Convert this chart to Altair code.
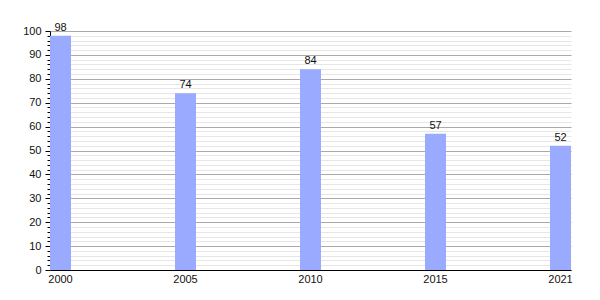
import altair as alt
import pandas as pd

years = ["2000", "2005", "2010", "2015", "2021"]
values = [98, 74, 84, 57, 52]
major_ticks = [0, 10, 20, 30, 40, 50, 60, 70, 80, 90, 100]
minor_ticks = [v for v in range(0, 101, 2) if v % 10 != 0]

df = pd.DataFrame({"year": years, "value": values})

FONT = "Liberation Sans"

x_enc = alt.X(
    "year:N",
    sort=years,
    title=None,
    scale=alt.Scale(paddingInner=0.832, paddingOuter=0.0),
    axis=alt.Axis(labelAngle=0, tickSize=0, labelPadding=3, domainColor="black",
                  labelFont=FONT, labelFontSize=11, labelColor="#111", grid=False),
)

yscale = alt.Scale(domain=[0, 100], nice=False)

base = alt.Chart(df)

minor = base.mark_bar(opacity=0).encode(
    x=x_enc,
    y=alt.Y("value:Q", scale=yscale, title=None,
            axis=alt.Axis(values=minor_ticks, labels=False, tickSize=3, tickColor="black",
                          domain=False, grid=True, gridColor="#e6e6e6", gridWidth=1,
                          orient="left")),
)

bars = base.mark_bar(color="#99aaff").encode(
    x=x_enc,
    y=alt.Y("value:Q", scale=yscale, title=None,
            axis=alt.Axis(values=major_ticks, tickSize=5, tickColor="black",
                          domainColor="black", grid=True, gridColor="#aaaaaa", gridWidth=1,
                          labelFont=FONT, labelFontSize=11, labelColor="#111",
                          labelPadding=4, orient="left")),
)

labels = base.mark_text(baseline="bottom", dy=-3, font=FONT, fontSize=11, color="#111").encode(
    x=x_enc,
    y=alt.Y("value:Q", scale=yscale, axis=None),
    text="value:Q",
)

chart = (
    alt.layer(minor, bars, labels)
    .resolve_axis(y="independent")
    .properties(
        width=521,
        height=239,
        autosize=alt.AutoSizeParams(type="none"),
        padding={"left": 50, "top": 31, "right": 29, "bottom": 30},
        background="white",
    )
    .configure_view(stroke=None)
)

chart.save("out.html", embed_options={"renderer": "svg", "actions": False})
